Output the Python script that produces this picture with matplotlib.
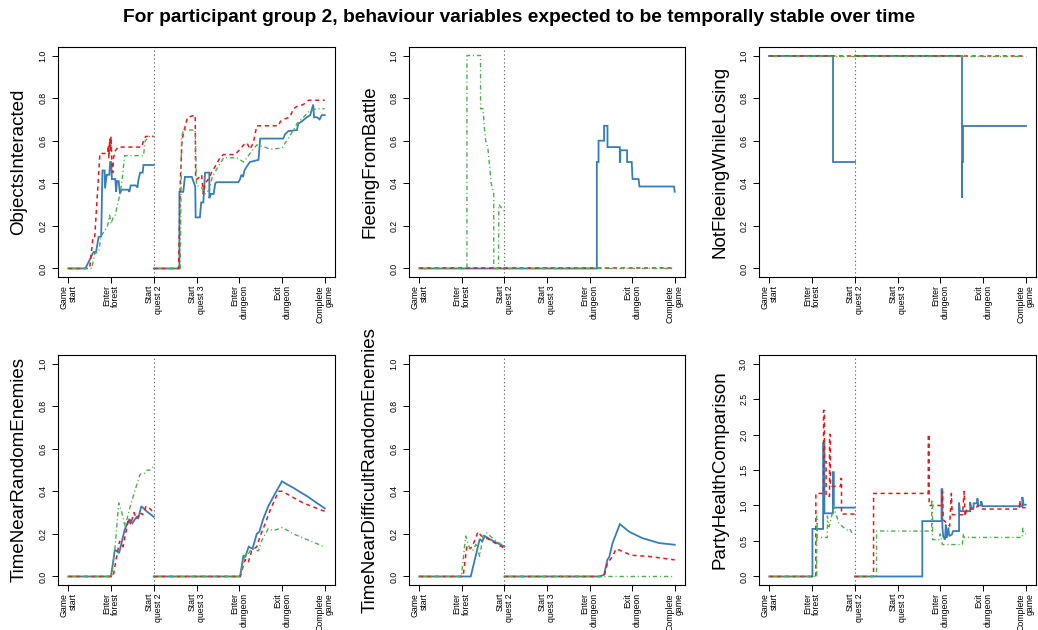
import numpy as np
import matplotlib
matplotlib.use("Agg")
import matplotlib.pyplot as plt

plt.rcParams['font.family'] = ['Liberation Sans', 'DejaVu Sans']
plt.rcParams['lines.scale_dashes'] = False

TITLE = "For participant group 2, behaviour variables expected to be temporally stable over time"
STAGES = ["Game\nstart", "Enter\nforest", "Start\nquest 2", "Start\nquest 3",
          "Enter\ndungeon", "Exit\ndungeon", "Complete\ngame"]
VARIABLES = ["ObjectsInteracted", "FleeingFromBattle", "NotFleeingWhileLosing",
             "TimeNearRandomEnemies", "TimeNearDifficultRandomEnemies", "PartyHealthComparison"]
Y_MAX = [1.0, 1.0, 1.0, 1.0, 1.0, 3.0]

# (stage position, value); None splits the trace at the start of quest 2
OBJ_BLUE = [(0, 0), (0.40, 0), (0.59, 0.077), (0.65, 0.077), (0.71, 0.148), (0.77, 0.15), (0.80, 0.46),
            (0.85, 0.46), (0.86, 0.376), (0.90, 0.44), (0.96, 0.44), (0.98, 0.50), (1.0, 0.50), (1.02, 0.42),
            (1.10, 0.42), (1.12, 0.36), (1.14, 0.41), (1.18, 0.41), (1.21, 0.35), (1.24, 0.37), (1.40, 0.37),
            (1.43, 0.36), (1.46, 0.39), (1.58, 0.39), (1.62, 0.38), (1.64, 0.415), (1.68, 0.45), (1.74, 0.45),
            (1.76, 0.486), (2.0, 0.486), None,
            (2, 0), (2.60, 0), (2.60, 0.36), (2.69, 0.36), (2.73, 0.43), (2.89, 0.43), (2.97, 0.385),
            (2.98, 0.24), (3.08, 0.24), (3.11, 0.31), (3.16, 0.31), (3.20, 0.45), (3.30, 0.45), (3.30, 0.33),
            (3.34, 0.35), (3.40, 0.35), (3.44, 0.40), (3.47, 0.405), (3.98, 0.405), (4.02, 0.42), (4.05, 0.44),
            (4.09, 0.43), (4.12, 0.46), (4.18, 0.48), (4.25, 0.50), (4.45, 0.51), (4.49, 0.61), (5.03, 0.61),
            (5.07, 0.63), (5.15, 0.645), (5.35, 0.65), (5.38, 0.68), (5.46, 0.69), (5.58, 0.71), (5.66, 0.72),
            (5.73, 0.77), (5.75, 0.71), (5.82, 0.71), (5.88, 0.70), (5.93, 0.72), (6.0, 0.72)]
OBJ_RED = [(0, 0), (0.50, 0), (0.58, 0.15), (0.62, 0.15), (0.74, 0.54), (0.92, 0.54), (0.94, 0.58),
           (0.95, 0.52), (0.97, 0.61), (0.99, 0.55), (1.00, 0.62), (1.02, 0.50), (1.04, 0.45), (1.06, 0.52),
           (1.09, 0.55), (1.13, 0.56), (1.16, 0.57), (1.72, 0.57), (1.76, 0.60), (1.81, 0.62), (2.0, 0.62), None,
           (2, 0), (2.58, 0), (2.62, 0.40), (2.66, 0.60), (2.70, 0.64), (2.79, 0.71), (2.97, 0.72), (2.98, 0.42),
           (3.02, 0.42), (3.12, 0.44), (3.16, 0.35), (3.20, 0.40), (3.28, 0.42), (3.35, 0.45), (3.44, 0.48),
           (3.55, 0.52), (3.63, 0.535), (3.90, 0.535), (4.02, 0.56), (4.10, 0.58), (4.18, 0.59), (4.25, 0.56),
           (4.33, 0.59), (4.41, 0.67), (4.92, 0.67), (4.96, 0.69), (5.03, 0.70), (5.18, 0.71), (5.27, 0.75),
           (5.34, 0.76), (5.50, 0.77), (5.62, 0.79), (6.0, 0.79)]
OBJ_GREEN = [(0, 0), (0.55, 0), (0.62, 0.07), (0.72, 0.08), (0.76, 0.15), (0.86, 0.18), (0.92, 0.20),
             (0.97, 0.25), (1.0, 0.21), (1.05, 0.24), (1.10, 0.25), (1.15, 0.30), (1.20, 0.34), (1.25, 0.40),
             (1.32, 0.53), (1.76, 0.53), (1.80, 0.60), (1.90, 0.62), (2.0, 0.62), None,
             (2, 0), (2.62, 0), (2.65, 0.62), (2.70, 0.65), (2.97, 0.65), (3.00, 0.39), (3.12, 0.38),
             (3.20, 0.35), (3.30, 0.37), (3.37, 0.43), (3.51, 0.48), (3.58, 0.50), (3.63, 0.52), (3.94, 0.52),
             (4.10, 0.50), (4.18, 0.52), (4.25, 0.54), (4.41, 0.58), (4.60, 0.57), (4.72, 0.56), (5.0, 0.565),
             (5.04, 0.58), (5.11, 0.60), (5.27, 0.65), (5.35, 0.68), (5.50, 0.71), (5.65, 0.74), (5.80, 0.75),
             (6.0, 0.75)]

FLEE_BLUE = [(0, 0), (2, 0), None,
             (2, 0), (4.17, 0), (4.17, 0.5), (4.21, 0.5), (4.21, 0.6), (4.34, 0.6), (4.34, 0.67), (4.42, 0.67),
             (4.42, 0.57), (4.71, 0.57), (4.71, 0.5), (4.72, 0.5), (4.72, 0.555), (4.88, 0.555), (4.88, 0.5),
             (4.99, 0.5), (5.00, 0.45), (5.01, 0.42), (5.15, 0.42), (5.17, 0.385), (5.98, 0.385), (6.0, 0.36)]
FLEE_RED = [(0, 0), (2, 0), None, (2, 0), (6, 0)]
FLEE_GREEN = [(0, 0), (1.12, 0), (1.12, 1.0), (1.44, 1.0), (1.44, 0.75), (1.50, 0.75), (1.53, 0.66),
              (1.56, 0.60), (1.61, 0.57), (1.69, 0.40), (1.75, 0.35), (1.75, 0), (1.86, 0), (1.87, 0.30),
              (1.95, 0.28), (2.0, 0.27), None, (2, 0), (6, 0)]

NOTFLEE_BLUE = [(0, 1), (1.5, 1), (1.5, 0.5), (2, 0.5), None,
                (2, 1), (4.5, 1), (4.5, 0.33), (4.52, 0.33), (4.52, 0.5), (4.54, 0.5), (4.54, 0.667), (6, 0.667)]
NOTFLEE_RED = [(0, 1), (2, 1), None, (2, 1), (6, 1)]
NOTFLEE_GREEN = [(0, 1), (2, 1), None, (2, 1), (6, 1)]

NEAR_BLUE = [(0, 0), (1.0, 0), (1.09, 0.126), (1.19, 0.11), (1.32, 0.22), (1.43, 0.27), (1.50, 0.25),
             (1.60, 0.28), (1.64, 0.275), (1.71, 0.33), (1.84, 0.305), (2.0, 0.28), None,
             (2, 0), (4.02, 0), (4.10, 0.10), (4.14, 0.09), (4.22, 0.14), (4.31, 0.13), (4.41, 0.20),
             (4.47, 0.21), (4.56, 0.27), (4.68, 0.33), (4.84, 0.39), (5.0, 0.447), (5.14, 0.43), (5.27, 0.416),
             (5.42, 0.397), (5.58, 0.378), (5.78, 0.35), (6.0, 0.32)]
NEAR_RED = [(0, 0), (1.05, 0), (1.12, 0.08), (1.20, 0.165), (1.28, 0.14), (1.36, 0.22), (1.41, 0.27),
            (1.46, 0.245), (1.54, 0.30), (1.60, 0.27), (1.68, 0.30), (1.74, 0.29), (1.82, 0.33), (1.90, 0.32),
            (2.0, 0.30), None,
            (2, 0), (4.02, 0), (4.14, 0.08), (4.21, 0.065), (4.29, 0.12), (4.41, 0.14), (4.49, 0.19),
            (4.60, 0.245), (4.72, 0.31), (4.92, 0.40), (5.0, 0.40), (5.14, 0.385), (5.27, 0.37), (5.5, 0.345),
            (5.75, 0.325), (6.0, 0.306)]
NEAR_GREEN = [(0, 0), (1.02, 0), (1.10, 0.15), (1.18, 0.345), (1.24, 0.31), (1.33, 0.235), (1.45, 0.33),
              (1.57, 0.41), (1.68, 0.48), (1.80, 0.485), (1.85, 0.50), (1.92, 0.50), (2.0, 0.52), None,
              (2, 0), (4.02, 0), (4.14, 0.11), (4.19, 0.10), (4.29, 0.13), (4.45, 0.12), (4.53, 0.17),
              (4.68, 0.225), (4.80, 0.215), (5.0, 0.23), (5.14, 0.215), (5.27, 0.20), (5.5, 0.18),
              (5.75, 0.16), (6.0, 0.138)]

DIFF_BLUE = [(0, 0), (1.21, 0), (1.42, 0.176), (1.48, 0.165), (1.54, 0.19), (1.65, 0.176), (1.80, 0.16),
             (2.0, 0.14), None,
             (2, 0), (4.23, 0), (4.34, 0.008), (4.42, 0.08), (4.46, 0.09), (4.54, 0.157), (4.71, 0.246),
             (4.93, 0.21), (5.24, 0.18), (5.63, 0.157), (6.0, 0.149)]
DIFF_RED = [(0, 0), (1.03, 0), (1.12, 0.145), (1.20, 0.13), (1.28, 0.157), (1.38, 0.21), (1.46, 0.19),
            (1.58, 0.18), (1.80, 0.155), (2.0, 0.133), None,
            (2, 0), (4.34, 0), (4.42, 0.063), (4.54, 0.094), (4.62, 0.129), (4.78, 0.118), (4.97, 0.10),
            (5.4, 0.094), (6.0, 0.078)]
DIFF_GREEN = [(0, 0), (0.99, 0), (1.09, 0.19), (1.17, 0.14), (1.25, 0.12), (1.33, 0.15), (1.42, 0.094),
              (1.50, 0.19), (1.58, 0.205), (1.75, 0.175), (2.0, 0.14), None, (2, 0), (6, 0)]

HEALTH_BLUE = [(0, 0), (1.01, 0), (1.01, 0.67), (1.26, 0.67), (1.26, 1.88), (1.29, 1.88), (1.29, 0.89),
               (1.49, 0.89), (1.49, 1.47), (1.51, 1.47), (1.51, 0.97), (2.0, 0.97), None,
               (2, 0), (3.58, 0), (3.58, 0.78), (4.03, 0.78), (4.03, 1.23), (4.05, 1.23), (4.05, 0.70),
               (4.07, 0.56), (4.11, 0.52), (4.13, 0.73), (4.15, 0.54), (4.19, 0.69), (4.21, 0.57), (4.27, 0.59),
               (4.30, 0.64), (4.44, 0.64), (4.44, 1.04), (4.46, 0.92), (4.70, 0.92), (4.70, 1.05), (4.72, 0.97),
               (4.78, 0.97), (4.78, 1.03), (4.86, 1.03), (4.87, 1.1), (4.89, 1.0), (4.95, 1.0), (4.96, 1.06),
               (4.99, 0.99), (5.92, 0.99), (5.92, 1.12), (5.95, 1.01), (6.0, 1.01)]
HEALTH_RED = [(0, 0), (1.09, 0), (1.09, 1.17), (1.27, 1.17), (1.27, 2.34), (1.29, 2.34), (1.29, 1.62),
              (1.33, 1.62), (1.33, 1.13), (1.41, 1.13), (1.41, 2.0), (1.43, 2.0), (1.43, 1.27), (1.67, 1.27),
              (1.67, 1.38), (1.69, 1.38), (1.69, 0.88), (2.0, 0.88), None,
              (2, 0), (2.44, 0), (2.44, 1.17), (3.72, 1.17), (3.72, 2.0), (3.74, 2.0), (3.74, 1.0), (4.03, 1.0),
              (4.05, 1.2), (4.07, 0.80), (4.15, 0.75), (4.22, 0.71), (4.26, 1.17), (4.28, 0.87), (4.52, 0.87),
              (4.56, 1.2), (4.58, 0.85), (4.62, 0.95), (4.84, 0.95), (4.87, 1.0), (4.99, 0.95), (5.85, 0.95),
              (5.86, 1.07), (5.88, 0.97), (6.0, 0.97)]
HEALTH_GREEN = [(0, 0), (1.11, 0), (1.11, 0.85), (1.12, 0.85), (1.12, 0.55), (1.36, 0.55), (1.36, 0.85),
                (1.40, 0.70), (1.46, 0.85), (1.50, 1.0), (1.55, 0.90), (1.63, 0.75), (1.72, 0.70), (1.83, 0.65),
                (1.88, 0.67), (1.95, 0.60), (2.0, 0.60), None,
                (2, 0), (2.51, 0), (2.51, 0.64), (3.80, 0.64), (3.80, 1.08), (3.82, 1.08), (3.82, 0.52),
                (3.97, 0.52), (4.0, 0.6), (4.05, 0.45), (4.52, 0.45), (4.53, 0.6), (4.56, 0.55), (5.92, 0.55),
                (5.93, 0.68), (5.96, 0.60), (6.0, 0.60)]

SERIES = [
    (OBJ_BLUE, OBJ_RED, OBJ_GREEN),
    (FLEE_BLUE, FLEE_RED, FLEE_GREEN),
    (NOTFLEE_BLUE, NOTFLEE_RED, NOTFLEE_GREEN),
    (NEAR_BLUE, NEAR_RED, NEAR_GREEN),
    (DIFF_BLUE, DIFF_RED, DIFF_GREEN),
    (HEALTH_BLUE, HEALTH_RED, HEALTH_GREEN),
]

# blue solid, red dashed, green dot-dash
STYLES = [
    dict(color="#377EB8", lw=1.3, ls="-"),
    dict(color="#E41A1C", lw=1.1, ls=(0, (3.0, 2.6))),
    dict(color="#4DAF4A", lw=1.0, ls=(0, (0.8, 2.0, 3.2, 2.0))),
]


def to_xy(points):
    xs = [np.nan if p is None else p[0] for p in points]
    ys = [np.nan if p is None else p[1] for p in points]
    return np.array(xs, float), np.array(ys, float)


W, H = 1038, 630
fig = plt.figure(figsize=(W / 100, H / 100), dpi=100)
fig.text(0.5, 1 - 18 / H, TITLE, ha="center", va="center", fontsize=13.8, fontweight="bold")

lefts = [58, 409, 759]
rights = [335, 685, 1036]
tops = [47, 355]
bottoms = [277, 585]

for i, name in enumerate(VARIABLES):
    r, c = divmod(i, 3)
    ax = fig.add_axes([lefts[c] / W, 1 - bottoms[r] / H,
                       (rights[c] - lefts[c]) / W, (bottoms[r] - tops[r]) / H])
    ymax = Y_MAX[i]

    for pts, st in zip(SERIES[i], STYLES):
        x, y = to_xy(pts)
        ax.plot(x, y, color=st["color"], lw=st["lw"], linestyle=st["ls"],
                solid_joinstyle="miter", dash_capstyle="butt")

    ax.axvline(2, color="#707070", lw=0.8, linestyle=(0, (1, 1.8)))

    ax.set_xlim(-0.24, 6.24)
    ax.set_ylim(-0.04 * ymax, 1.04 * ymax)
    ax.set_xticks(range(len(STAGES)))
    ax.set_xticklabels(STAGES)
    if ymax > 1:
        yt = np.arange(0, ymax + 0.01, 0.5)
    else:
        yt = np.arange(0, 1.01, 0.2)
    ax.set_yticks(yt)
    ax.set_yticklabels([f"{v:.1f}" for v in yt])

    ax.tick_params(axis="both", direction="out", length=4.3, width=0.7, labelsize=6.3, colors="black")
    ax.tick_params(axis="x", labelrotation=90, pad=1.5)
    ax.tick_params(axis="y", labelrotation=90, pad=3.5)
    for lab in ax.get_xticklabels():
        lab.set_multialignment("right")
        lab.set_linespacing(1.05)
    for lab in ax.get_yticklabels():
        lab.set_va("center")

    for sp in ax.spines.values():
        sp.set_linewidth(0.8)

    ax.set_ylabel(name, fontsize=13.5, va="center")
    ax.yaxis.set_label_coords(-39 / (rights[c] - lefts[c]), 0.5)

fig.savefig("out.png", dpi=100)
